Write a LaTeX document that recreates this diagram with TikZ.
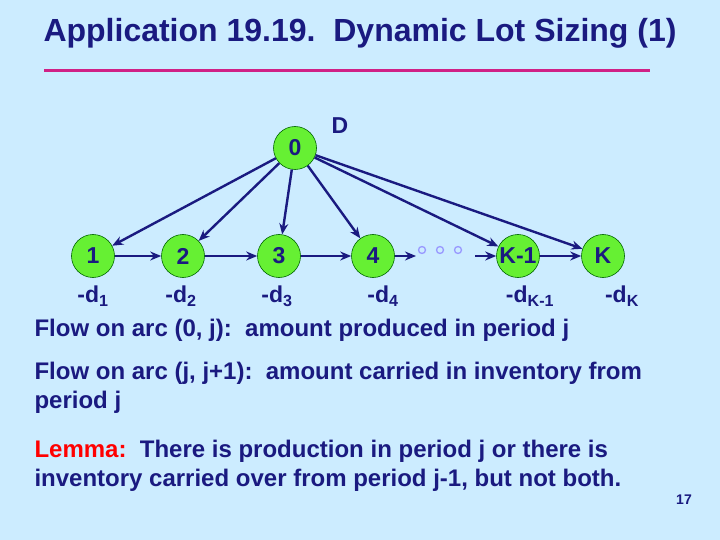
\documentclass[tikz,border=0pt]{standalone}
\usepackage{fontspec}
\setmainfont{Liberation Sans}
\usetikzlibrary{arrows.meta}
\definecolor{bg}{HTML}{CCECFF}
\definecolor{navy}{HTML}{1A1A80}
\definecolor{grn}{HTML}{66F033}
\begin{document}
\begin{tikzpicture}[x=1pt,y=-1pt,
  nd/.style={circle,fill=grn,draw=black!60!green,line width=0.6pt,minimum size=43pt,inner sep=0pt,font=\fontsize{23}{26}\selectfont\bfseries,text=navy},
  lab/.style={font=\fontsize{23}{26}\selectfont\bfseries,text=navy},
  arc/.style={-{Stealth[length=11pt,width=9pt]},line width=2.4pt,draw=navy},
  dotc/.style={circle,draw=blue!40!white,fill=bg,line width=1.3pt,minimum size=7pt,inner sep=0pt},
  txt/.style={font=\fontsize{24}{28.5}\selectfont\bfseries,text=navy,anchor=west,align=left}]
\fill[bg] (0,0) rectangle (720,540);
\useasboundingbox (0,0) rectangle (720,540);
\node[font=\fontsize{32}{36}\selectfont\bfseries,text=navy] (title) at (360,33) {Application 19.19.\ \ Dynamic Lot Sizing (1)};
\draw[magenta!85!black,line width=3pt] (44,71) -- (650,71);
\node[nd] (n0) at (295,148) {0};
\node[lab] (D) at (340,126) {D};
\node[nd] (n1) at (93,256) {1};
\node[nd] (n2) at (183,256) {2};
\node[nd] (n3) at (279,256) {3};
\node[nd] (n4) at (373,256) {4};
\node[nd] (nk1) at (518,256) {K-1};
\node[nd] (nk) at (603,256) {K};
\node[dotc] (d1) at (422,250) {};
\node[dotc] (d2) at (440,250) {};
\node[dotc] (d3) at (458,250) {};
\coordinate (a4) at (416,256);
\coordinate (ak) at (475,256);
\foreach \t in {n1,n2,n3,n4,nk1,nk} \draw[arc] (n0) -- (\t);
\draw[arc] (n1) -- (n2);
\draw[arc] (n2) -- (n3);
\draw[arc] (n3) -- (n4);
\draw[arc] (n4) -- (a4);
\draw[arc] (ak) -- (nk1);
\draw[arc] (nk1) -- (nk);
\node[lab] (l1) at (93,296) {-d\textsubscript{1}};
\node[lab] (l2) at (181,296) {-d\textsubscript{2}};
\node[lab] (l3) at (277,296) {-d\textsubscript{3}};
\node[lab] (l4) at (383,296) {-d\textsubscript{4}};
\node[lab] (l5) at (530,296) {-d\textsubscript{K-1}};
\node[lab] (l6) at (622,296) {-d\textsubscript{K}};
\node[txt] (t1) at (31,330) {Flow on arc (0, j):\ \ amount produced in period j};
\node[txt] (t2) at (31,388) {Flow on arc (j, j+1):\ \ amount carried in inventory from\\period j};
\node[txt] (t3) at (31,466) {\textcolor{red}{Lemma:}\ \ There is production in period j or there is\\inventory carried over from period j-1, but not both.};
\node[font=\fontsize{14}{16}\selectfont\bfseries,text=navy] (pg) at (684,500) {17};
\end{tikzpicture}
\end{document}
